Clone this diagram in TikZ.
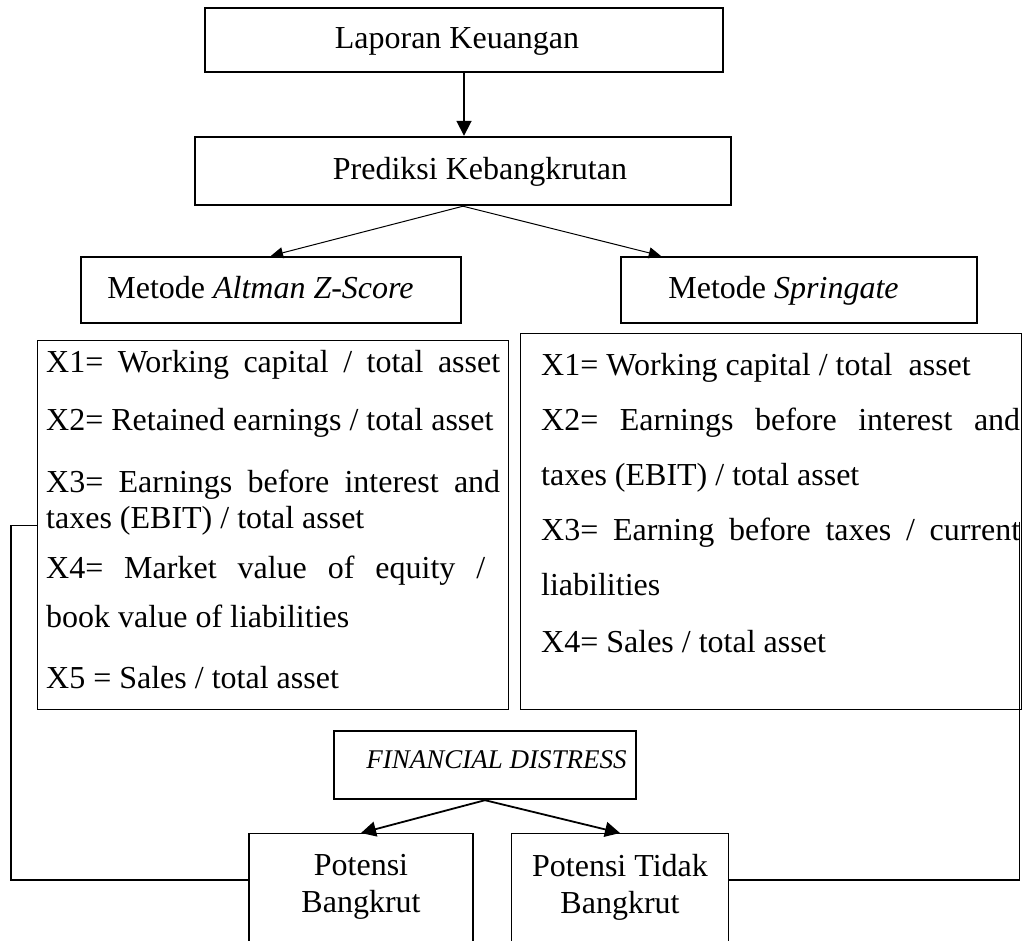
\documentclass[tikz,border=0pt]{standalone}
\usepackage{fontspec}
\setmainfont{Liberation Serif}
\usetikzlibrary{arrows.meta,calc}

\begin{document}
\begin{tikzpicture}[x=1pt, y=-1pt,
    font=\fontsize{32}{37}\selectfont,
    hbox/.style={draw, line width=2.4pt, inner sep=0pt, text height=24pt, text depth=8pt},
    panel/.style={draw, line width=1.1pt, inner sep=0pt},
    ln/.style={anchor=base west, inner sep=0pt},
    arr/.style={-{Triangle[length=15pt,width=15pt]}, line width=1.8pt},
    thinarr/.style={-{Triangle[length=12pt,width=11pt]}, line width=1pt},
    conn/.style={line width=1.1pt}]
  \useasboundingbox (0,0) rectangle (1023,940);

  % Top of the scheme
  \node[hbox, minimum width=518, minimum height=64] (lk) at (464,40) {Laporan Keuangan\hspace*{14pt}};
  \node[hbox, minimum width=536, minimum height=68] (pk) at (463,171) {\hspace*{34pt}Prediksi Kebangkrutan};

  % The two methods
  \node[hbox, minimum width=380, minimum height=66] (am) at (271,290) {Metode \textit{Altman Z-Score}\hspace*{21pt}};
  \node[hbox, minimum width=356, minimum height=66] (ms) at (799,290) {Metode \textit{Springate}\hspace*{31pt}};

  % Ratio panels
  \node[panel, minimum width=471, minimum height=369, anchor=north west] (ax) at (37,340) {};
  \node[panel, minimum width=501, minimum height=376, anchor=north west] (sx) at (520,333) {};

  % Altman ratios
  \node[ln] (a1) at (46,372) {\makebox[454pt][s]{X1= Working capital / total asset}};
  \node[ln] (a2) at (46,430) {X2= Retained earnings / total asset};
  \node[ln] (a3) at (46,492) {\makebox[454pt][s]{X3= Earnings before interest and}};
  \node[ln] (a3b) at (46,528) {taxes (EBIT) / total asset};
  \node[ln] (a4) at (46,578) {\makebox[439pt][s]{X4= Market value of equity /}};
  \node[ln] (a4b) at (46,627) {book value of liabilities};
  \node[ln] (a5) at (46,688) {X5 = Sales / total asset};

  % Springate ratios
  \node[ln] (s1) at (541,375) {X1= Working capital / total\ \ asset};
  \node[ln] (s2) at (541,430) {\makebox[479pt][s]{X2= Earnings before interest and}};
  \node[ln] (s2b) at (541,485) {taxes (EBIT) / total asset};
  \node[ln] (s3) at (541,540) {\makebox[479pt][s]{X3= Earning before taxes / current}};
  \node[ln] (s3b) at (541,595) {liabilities};
  \node[ln] (s4) at (541,652) {X4= Sales / total asset};

  % Outcome
  \node[hbox, minimum width=302, minimum height=68, text height=18pt, text depth=12pt,
        font=\fontsize{27}{30}\selectfont\itshape] (fd) at (485,765) {\hspace*{23pt}FINANCIAL DISTRESS};
  \node[panel, minimum width=224, inner ysep=21pt, anchor=north, align=center] (pb) at (361,833) {Potensi\\Bangkrut\\[60pt]\mbox{}};
  \node[panel, minimum width=217, inner ysep=21pt, anchor=north, align=center] (ptb) at (620,833) {Potensi Tidak\\Bangkrut\\[60pt]\mbox{}};

  % Arrows
  \draw[arr] (lk.south) -- (lk.south |- pk.north);
  \draw[thinarr] (pk.south) -- (am.north);
  \draw[thinarr] (pk.south) -- ([xshift=41pt]ms.north west);
  \draw[arr] (fd.south) -- (pb.north);
  \draw[arr] (fd.south) -- (ptb.north);

  % Side links
  \coordinate (lft) at ([yshift=-47pt]pb.north west);
  \coordinate (rgt) at ([yshift=-47pt]ptb.north east);
  \draw[conn] (ax.west) -- ++(-26,0) |- (lft);
  \draw[conn] ([xshift=-3pt]sx.east) |- (rgt);
\end{tikzpicture}
\end{document}
